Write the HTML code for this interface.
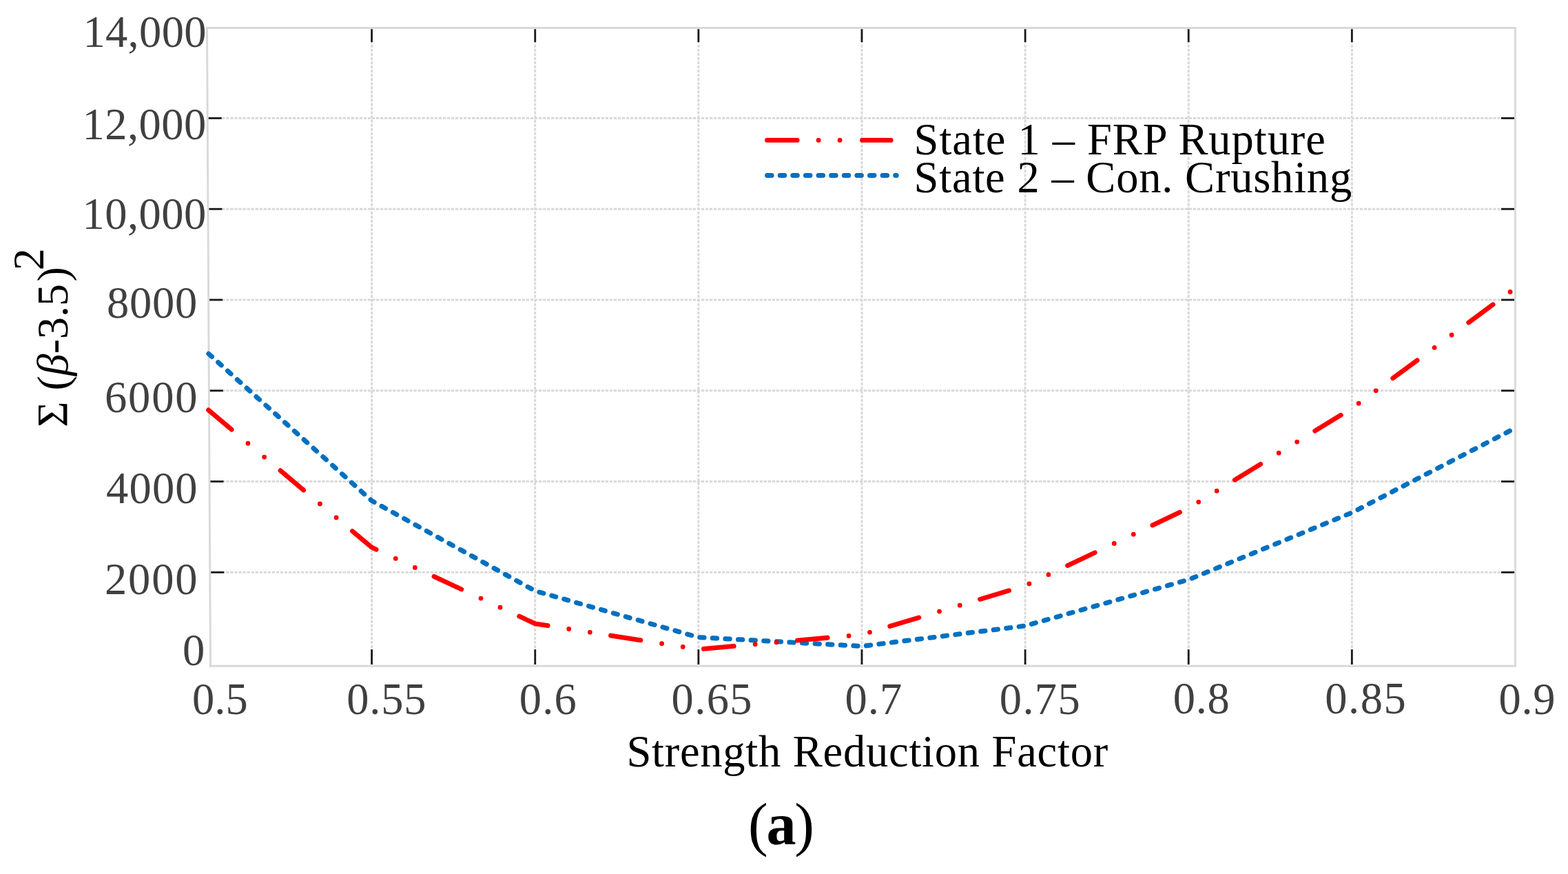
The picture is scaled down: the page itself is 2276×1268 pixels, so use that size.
<!DOCTYPE html>
<html><head><meta charset="utf-8"><title>Strength Reduction Factor chart</title>
<style>html,body{margin:0;padding:0;background:#fff;}body{width:2276px;height:1268px;overflow:hidden;}svg{display:block;}text{font-family:"Liberation Serif","Times New Roman",serif;}</style>
</head><body>
<svg width="2276" height="1268" viewBox="0 0 2276 1268">
<rect width="2276" height="1268" fill="#fff"/>
<g stroke="#d9d9d9" stroke-width="2.9" stroke-dasharray="4.3 1.75"><line x1="304.0" y1="830.33" x2="2199.4" y2="830.33"/><line x1="304.0" y1="698.56" x2="2199.4" y2="698.56"/><line x1="304.0" y1="566.79" x2="2199.4" y2="566.79"/><line x1="304.0" y1="435.02" x2="2199.4" y2="435.02"/><line x1="304.0" y1="303.25" x2="2199.4" y2="303.25"/><line x1="304.0" y1="171.48" x2="2199.4" y2="171.48"/><line x1="539.62" y1="40.5" x2="539.62" y2="966.2"/><line x1="776.74" y1="40.5" x2="776.74" y2="966.2"/><line x1="1013.86" y1="40.5" x2="1013.86" y2="966.2"/><line x1="1250.98" y1="40.5" x2="1250.98" y2="966.2"/><line x1="1488.10" y1="40.5" x2="1488.10" y2="966.2"/><line x1="1725.22" y1="40.5" x2="1725.22" y2="966.2"/><line x1="1962.34" y1="40.5" x2="1962.34" y2="966.2"/></g>
<g stroke="#d9d9d9" stroke-width="2.9" fill="none"><line x1="299.1" y1="40.5" x2="2200.9" y2="40.5"/><line x1="304.1" y1="966.2" x2="2200.9" y2="966.2"/><line x1="300.5" y1="39.1" x2="305.5" y2="967.7"/><line x1="2199.4" y1="39.1" x2="2199.4" y2="967.7"/></g>
<g stroke="#1a1a1a" stroke-width="2.8"><line x1="306.2" y1="830.33" x2="325.2" y2="830.33"/><line x1="2179.0" y1="830.33" x2="2198.0" y2="830.33"/><line x1="305.5" y1="698.56" x2="324.5" y2="698.56"/><line x1="2179.0" y1="698.56" x2="2198.0" y2="698.56"/><line x1="304.8" y1="566.79" x2="323.8" y2="566.79"/><line x1="2179.0" y1="566.79" x2="2198.0" y2="566.79"/><line x1="304.1" y1="435.02" x2="323.1" y2="435.02"/><line x1="2179.0" y1="435.02" x2="2198.0" y2="435.02"/><line x1="303.4" y1="303.25" x2="322.4" y2="303.25"/><line x1="2179.0" y1="303.25" x2="2198.0" y2="303.25"/><line x1="302.7" y1="171.48" x2="321.7" y2="171.48"/><line x1="2179.0" y1="171.48" x2="2198.0" y2="171.48"/><line x1="539.62" y1="964.0" x2="539.62" y2="942.2"/><line x1="539.62" y1="42.3" x2="539.62" y2="61.1"/><line x1="776.74" y1="964.0" x2="776.74" y2="942.2"/><line x1="776.74" y1="42.3" x2="776.74" y2="61.1"/><line x1="1013.86" y1="964.0" x2="1013.86" y2="942.2"/><line x1="1013.86" y1="42.3" x2="1013.86" y2="61.1"/><line x1="1250.98" y1="964.0" x2="1250.98" y2="942.2"/><line x1="1250.98" y1="42.3" x2="1250.98" y2="61.1"/><line x1="1488.10" y1="964.0" x2="1488.10" y2="942.2"/><line x1="1488.10" y1="42.3" x2="1488.10" y2="61.1"/><line x1="1725.22" y1="964.0" x2="1725.22" y2="942.2"/><line x1="1725.22" y1="42.3" x2="1725.22" y2="61.1"/><line x1="1962.34" y1="964.0" x2="1962.34" y2="942.2"/><line x1="1962.34" y1="42.3" x2="1962.34" y2="61.1"/></g>
<path d="M302.50,513.00 L539.62,726.50 L776.74,857.30 L1013.86,924.60 L1250.98,937.50 L1488.10,908.00 L1725.22,841.00 L1962.34,743.70 L2199.46,621.00" fill="none" stroke="#0070c0" stroke-width="7" stroke-linecap="round" stroke-linejoin="round" stroke-dasharray="6.3 12.32" stroke-dashoffset="-0.35"/>
<path d="M302.50,594.90 L539.62,794.20 L776.74,904.80 L1013.86,942.00 L1250.98,920.80 L1488.10,849.70 L1725.22,737.20 L1962.34,592.40 L2199.46,418.10" fill="none" stroke="#ff0000" stroke-width="6.8" stroke-linecap="round" stroke-linejoin="round" stroke-dasharray="44 31 0 31 0 30.5" stroke-dashoffset="0"/>
<line x1="1113.5" y1="203.4" x2="1293.2" y2="203.4" stroke="#ff0000" stroke-width="6.8" stroke-linecap="round" stroke-dasharray="43.7 30.9 0 31 0 32.4 60"/>
<line x1="1113.6" y1="254.4" x2="1301.2" y2="254.4" stroke="#0070c0" stroke-width="7" stroke-linecap="round" stroke-dasharray="6.5 12.11"/>
<text id="y14" x="120.40" y="68.40" font-size="64.5" fill="#404040" textLength="179.17" lengthAdjust="spacing">14,000</text>
<text id="y12" x="119.50" y="201.60" font-size="64.5" fill="#404040" textLength="179.77" lengthAdjust="spacing">12,000</text>
<text id="y10" x="119.50" y="331.70" font-size="64.5" fill="#404040" textLength="179.77" lengthAdjust="spacing">10,000</text>
<text id="y8" x="155.10" y="461.00" font-size="64.5" fill="#404040" textLength="131.20" lengthAdjust="spacing">8000</text>
<text id="y6" x="152.00" y="597.60" font-size="64.5" fill="#404040" textLength="134.60" lengthAdjust="spacing">6000</text>
<text id="y4" x="154.00" y="729.60" font-size="64.5" fill="#404040" textLength="132.60" lengthAdjust="spacing">4000</text>
<text id="y2" x="152.00" y="861.60" font-size="64.5" fill="#404040" textLength="134.60" lengthAdjust="spacing">2000</text>
<text id="y0" x="265.00" y="965.20" font-size="64.5" fill="#404040">0</text>
<text id="x50" x="278.90" y="1035.60" font-size="64.5" fill="#404040" textLength="80.82" lengthAdjust="spacing">0.5</text>
<text id="x55" x="503.20" y="1035.60" font-size="64.5" fill="#404040" textLength="115.28" lengthAdjust="spacing">0.55</text>
<text id="x60" x="753.80" y="1035.60" font-size="64.5" fill="#404040" textLength="83.02" lengthAdjust="spacing">0.6</text>
<text id="x65" x="974.60" y="1035.60" font-size="64.5" fill="#404040" textLength="116.88" lengthAdjust="spacing">0.65</text>
<text id="x70" x="1226.50" y="1035.60" font-size="64.5" fill="#404040" textLength="82.82" lengthAdjust="spacing">0.7</text>
<text id="x75" x="1450.80" y="1035.60" font-size="64.5" fill="#404040" textLength="116.88" lengthAdjust="spacing">0.75</text>
<text id="x80" x="1702.70" y="1034.60" font-size="64.5" fill="#404040" textLength="82.02" lengthAdjust="spacing">0.8</text>
<text id="x85" x="1923.20" y="1034.60" font-size="64.5" fill="#404040" textLength="117.47" lengthAdjust="spacing">0.85</text>
<text id="x90" x="2175.50" y="1035.60" font-size="64.5" fill="#404040" textLength="82.02" lengthAdjust="spacing">0.9</text>
<text id="leg1" x="1326.60" y="223.50" font-size="64.5" fill="#000" textLength="597.34" lengthAdjust="spacing">State 1 – FRP Rupture</text>
<text id="leg2" x="1326.60" y="278.60" font-size="64.5" fill="#000" textLength="635.54" lengthAdjust="spacing">State 2 – Con. Crushing</text>
<text id="title" x="909.40" y="1112.30" font-size="64.5" fill="#000" textLength="698.72" lengthAdjust="spacing">Strength Reduction Factor</text>
<text id="ylab" x="0.00" y="0.00" font-size="64" fill="#000" transform="translate(98,619.8) rotate(-90)">Σ (<tspan font-style="italic">β</tspan>-3.5<tspan dx="3.5">)</tspan><tspan dx="-5" dy="-35">2</tspan></text>
<text id="cap" x="1086.10" y="1224.90" font-size="86.2" fill="#000" textLength="95.92" lengthAdjust="spacing">(<tspan font-weight="bold">a</tspan>)</text>
</svg>
</body></html>
